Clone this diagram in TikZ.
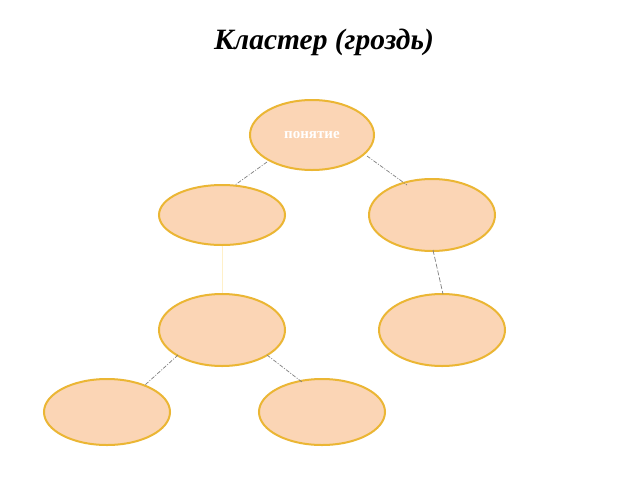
\documentclass[tikz,border=0pt]{standalone}
\usepackage{fontspec}
\setmainfont{Liberation Serif}
\usetikzlibrary{shapes.geometric,calc}
\definecolor{peach}{HTML}{FBD5B5}
\definecolor{gold}{HTML}{EBB634}
\definecolor{conn}{HTML}{808080}
\definecolor{pale}{HTML}{FFF0C8}
\begin{document}
\begin{tikzpicture}[x=1pt,y=-1pt,
  bubble/.style={ellipse,draw=gold,fill=peach,line width=2pt,inner sep=0pt},
  link/.style={draw=conn,line width=0.7pt,dash pattern=on 4pt off 1.5pt on 1pt off 1.5pt}]
\fill[white] (0,0) rectangle (640,480);
\useasboundingbox (0,0) rectangle (640,480);
\node (title) at (324,42) {\fontsize{29.5}{34}\selectfont\bfseries\itshape Кластер (гроздь)};
\node[bubble,minimum width=124pt,minimum height=70pt] (top) at (312,135) {\color{white}\fontsize{15}{17}\selectfont\bfseries понятие};
\node[bubble,minimum width=126pt,minimum height=60pt] (lm) at (222,215) {};
\node[bubble,minimum width=126pt,minimum height=72pt] (rm) at (432,215) {};
\node[bubble,minimum width=126pt,minimum height=72pt] (ml) at (222,330) {};
\node[bubble,minimum width=126pt,minimum height=72pt] (rl) at (442,330) {};
\node[bubble,minimum width=126pt,minimum height=66pt] (bl) at (107,412) {};
\node[bubble,minimum width=126pt,minimum height=66pt] (br) at (322,412) {};
\draw[link] ($(top)+(-45,27)$) -- ($(lm)+(13,-30)$);
\draw[link] ($(top)+(55,21)$) -- ($(rm)+(-25,-30)$);
\draw[pale,line width=0.8pt] (lm.south) -- (ml.north);
\draw[link,dash pattern=on 5pt off 2pt] ($(rm)+(1,35)$) -- ($(rl)+(1,-36)$);
\draw[link] ($(ml)+(-44,25)$) -- ($(bl)+(38,-27)$);
\draw[link] ($(ml)+(45,25)$) -- ($(br)+(-20,-30)$);
\end{tikzpicture}
\end{document}
